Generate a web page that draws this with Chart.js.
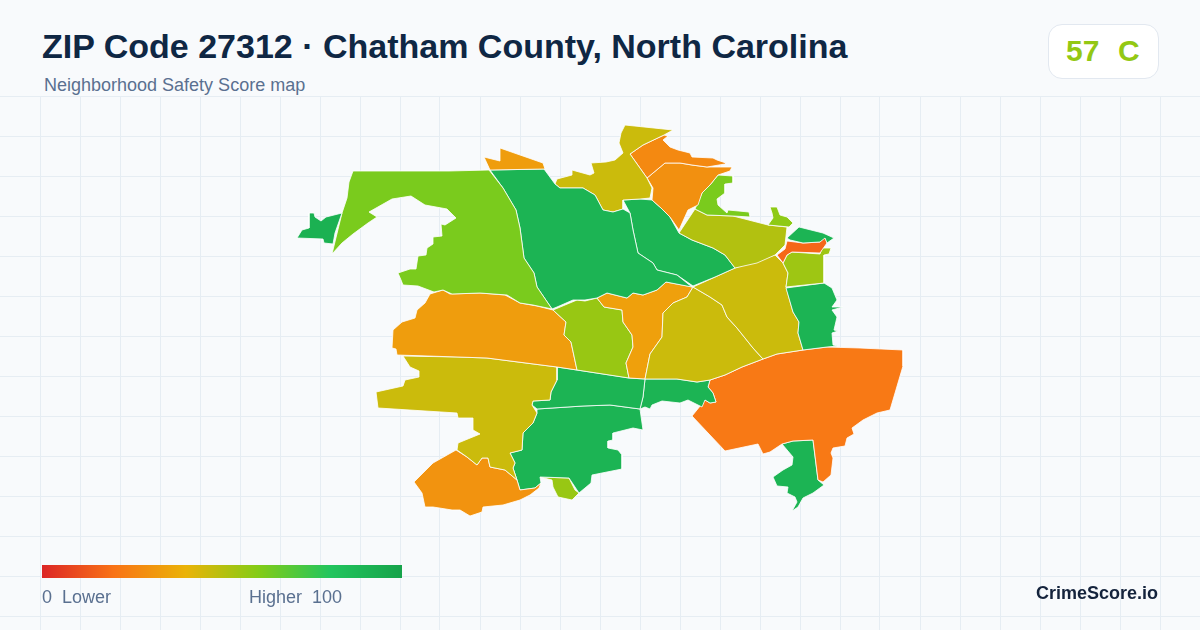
<!DOCTYPE html>
<html>
<head>
<meta charset="utf-8">
<title>ZIP Code 27312</title>
<script src="https://cdn.jsdelivr.net/npm/chart.js@4/dist/chart.umd.min.js"></script>
<style>
  html, body { margin: 0; padding: 0; }
  body { width: 1200px; height: 630px; background: #f8fafc; position: relative; overflow: hidden; font-family: "Liberation Sans", Arial, sans-serif; }
  #map { position: absolute; left: 0; top: 96px; }
  .txt { position: absolute; white-space: pre; line-height: 1; }
  #title { left: 42px; top: 29px; font-size: 34px; font-weight: bold; color: #0f2744; }
  #sub { left: 44px; top: 76px; font-size: 18px; color: #5a7090; }
  #badge { position: absolute; left: 1048px; top: 24px; width: 109px; height: 53px; background: #fff; border: 1px solid #e2e8f0; border-radius: 14px; }
  #score { left: 1066px; top: 36px; font-size: 30px; font-weight: bold; word-spacing: 1px; }
  #bar { position: absolute; left: 42px; top: 565px; width: 360px; height: 13px; }
  #lo { left: 42px; top: 588px; font-size: 18px; color: #5a7090; }
  #hi { left: 249px; top: 588px; font-size: 18px; color: #5a7090; }
  #brand { left: 1036px; top: 584px; font-size: 18px; font-weight: bold; color: #14233c; }
</style>
</head>
<body>
<div id="title" class="txt">ZIP Code 27312 · Chatham County, North Carolina</div>
<div id="sub" class="txt">Neighborhood Safety Score map</div>
<div id="badge"></div>
<div id="score" class="txt"></div>
<canvas id="map" width="1200" height="534"></canvas>
<div id="bar"></div>
<div id="lo" class="txt">0  Lower</div>
<div id="hi" class="txt">Higher  100</div>
<div id="brand" class="txt">CrimeScore.io</div>
<script>
const overallScore = 57
const overallGrade = 'C'

// colour ramp of the legend, 0 to 100
const rampStops = [0, 20, 40, 60, 80, 100]
const rampColors = ['#dc2626', '#f97316', '#eab308', '#84cc16', '#22c55e', '#16a34a']

// map grid, in map units
const gridX = [40, 80, 120, 160, 200, 240, 280, 320, 360, 400, 440, 480, 520, 560, 600, 640, 680, 720, 760, 800, 840, 880, 920, 960, 1000, 1040, 1080, 1120, 1160]
const gridY = [96, 136, 176, 216, 256, 296, 336, 376, 416, 456, 496, 536, 576, 616]

// neighborhood outlines, in map units
const westSpike = [[342,213],[326,217],[321,221],[315,217],[314,213],[309,213],[309,228],[302,230],[297,238],[323,239],[324,243],[333,244],[335,233]]
const northwest = [[353,171],[449,171],[489,170],[503,188],[516,210],[520,228],[524,258],[534,273],[537,287],[552,309],[533,305],[520,303],[507,295],[480,293],[452,294],[443,290],[434,292],[418,286],[403,285],[401,280],[398,273],[410,269],[416,269],[418,256],[426,255],[427,248],[433,244],[433,237],[442,236],[441,224],[445,225],[456,218],[447,209],[425,205],[411,196],[392,199],[369,212],[377,217],[368,223],[353,234],[342,243],[332,254],[342,213],[347,198],[349,182]]
const topSliver = [[484,157],[500,161],[500,148],[543,163],[545,169],[490,170]]
const centerBig = [[490,170],[544,169],[555,184],[560,188],[583,188],[595,195],[603,210],[613,212],[623,209],[630,213],[633,230],[638,253],[653,263],[657,270],[677,275],[692,287],[666,282],[657,290],[643,295],[633,293],[627,298],[607,293],[597,298],[585,300],[573,300],[557,307],[552,309],[537,287],[534,273],[524,258],[520,228],[516,210],[503,188]]
const northOlive = [[625,125],[673,130],[664,135],[643,145],[630,154],[647,178],[652,188],[650,198],[640,199],[623,200],[623,209],[613,212],[603,210],[595,195],[583,188],[560,188],[555,184],[557,179],[572,175],[572,170],[590,175],[594,173],[591,163],[606,162],[615,160],[623,153],[619,143],[621,133]]
const northOrange = [[630,154],[643,145],[664,135],[668,136],[663,140],[670,147],[678,150],[690,153],[692,157],[713,158],[717,160],[726,163],[725,164],[707,167],[692,165],[680,163],[665,163],[647,178]]
const northOrange2 = [[647,178],[665,163],[680,163],[692,165],[707,167],[732,167],[730,171],[718,175],[710,185],[702,193],[698,205],[688,210],[679,230],[670,217],[661,208],[652,200],[653,188]]
const neckLime = [[718,175],[733,176],[733,183],[725,184],[725,193],[717,199],[718,205],[727,213],[728,210],[749,212],[750,217],[733,216],[707,215],[695,209],[702,193],[710,185]]
const neTip = [[770,207],[777,207],[780,215],[787,217],[793,223],[789,227],[768,225],[773,218],[772,213]]
const oliveLime = [[695,209],[707,215],[733,216],[768,225],[787,227],[785,245],[775,255],[757,263],[735,268],[725,255],[713,248],[692,240],[679,233]]
const centerNorth = [[623,200],[640,199],[652,200],[661,208],[670,217],[679,233],[692,240],[713,248],[725,255],[735,268],[715,277],[693,286],[677,275],[657,270],[653,263],[638,253],[633,230],[630,213]]
const neGreen = [[787,238],[799,227],[823,233],[834,238],[827,243],[825,238],[820,242],[803,243],[790,240]]
const redStrip = [[787,241],[803,243],[820,242],[825,237],[827,243],[822,250],[820,253],[792,252],[787,255],[783,263],[777,255],[785,249]]
const eastLime = [[787,255],[792,252],[820,254],[822,248],[831,248],[829,254],[824,255],[824,283],[786,287],[788,273],[783,263]]
const eastGreen = [[786,288],[824,283],[832,288],[837,300],[832,307],[843,307],[832,310],[837,317],[834,330],[838,331],[832,333],[833,345],[838,346],[827,347],[803,350],[798,333],[799,322],[793,312]]
const eastOlive = [[693,287],[735,268],[775,255],[783,263],[788,273],[786,287],[793,312],[799,322],[798,333],[803,350],[777,354],[763,359],[753,348],[745,338],[737,328],[727,317],[722,305],[710,297]]
const southOlive = [[693,287],[710,297],[722,305],[727,317],[737,328],[745,338],[753,348],[763,359],[742,367],[725,375],[710,380],[697,382],[677,379],[645,379],[650,354],[662,337],[663,313],[673,303],[687,297]]
const centerAmber = [[597,298],[604,307],[622,310],[623,322],[632,335],[633,347],[626,363],[629,378],[645,379],[650,354],[662,337],[663,313],[673,303],[687,297],[693,287],[666,282],[657,290],[643,295],[633,293],[627,298],[607,293]]
const centerLime = [[553,310],[577,300],[585,301],[597,298],[604,307],[622,310],[623,322],[632,335],[633,347],[626,363],[629,378],[577,370],[571,342],[564,335],[566,322]]
const westAmber = [[443,290],[450,294],[480,293],[505,295],[520,303],[537,306],[553,310],[566,322],[564,335],[571,342],[577,370],[557,367],[487,358],[458,357],[397,355],[396,349],[392,348],[393,330],[402,322],[415,318],[417,310],[425,303],[430,294]]
const westOlive = [[403,356],[458,357],[487,358],[557,367],[557,380],[551,392],[550,400],[533,401],[532,405],[537,413],[533,423],[523,433],[522,450],[510,453],[515,463],[513,468],[517,480],[505,470],[490,467],[488,458],[482,458],[477,465],[467,457],[457,450],[458,443],[480,434],[473,430],[473,418],[458,418],[457,413],[378,408],[376,392],[403,386],[405,380],[419,377],[419,371],[410,367]]
const swOrange = [[456,450],[467,457],[477,465],[482,458],[488,458],[490,467],[505,470],[517,480],[520,490],[535,488],[541,483],[539,488],[530,495],[520,500],[503,505],[483,507],[482,512],[470,516],[460,510],[452,510],[433,507],[425,507],[422,493],[414,482],[433,463]]
const southGreen1 = [[557,367],[577,370],[629,378],[645,379],[643,397],[640,409],[610,405],[583,406],[537,409],[532,405],[533,401],[550,400],[551,392],[557,380]]
const southGreen2 = [[537,409],[583,406],[610,405],[640,409],[643,430],[633,428],[613,433],[613,440],[608,441],[608,448],[618,450],[622,455],[622,469],[592,475],[591,483],[579,493],[569,478],[540,477],[541,483],[535,488],[520,490],[517,480],[513,468],[515,463],[510,453],[522,450],[523,433],[533,423],[537,413]]
const southTip = [[540,477],[569,478],[575,490],[579,493],[572,500],[558,497],[553,487],[552,480]]
const midGreen = [[645,379],[677,379],[697,382],[710,380],[708,387],[713,393],[716,402],[710,403],[705,400],[702,407],[688,400],[680,403],[662,401],[652,405],[650,409],[645,407],[640,409],[643,397]]
const seOrange = [[710,380],[725,375],[742,367],[763,359],[777,354],[803,350],[827,347],[860,348],[903,350],[903,366],[890,410],[877,413],[863,420],[852,428],[854,434],[847,438],[845,446],[833,448],[831,453],[833,458],[831,475],[823,482],[818,480],[813,440],[793,441],[782,444],[770,452],[763,454],[758,444],[725,451],[692,416],[705,400],[710,403],[716,402],[713,393],[708,387]]
const seGreen = [[782,444],[793,441],[813,440],[818,480],[824,485],[813,493],[803,498],[798,507],[792,511],[797,502],[795,497],[787,493],[788,487],[777,486],[773,477],[783,470],[792,465],[793,457]]

const outlines = [westSpike, northwest, topSliver, centerBig, northOlive, northOrange, northOrange2, neckLime, neTip, oliveLime, centerNorth, neGreen, redStrip, eastLime, eastGreen, eastOlive, southOlive, centerAmber, centerLime, westAmber, westOlive, swOrange, southGreen1, southGreen2, southTip, midGreen, seOrange, seGreen]
const scores = [92, 62, 33, 90, 46, 27, 29, 62, 58, 51, 90, 90, 17, 55, 90, 46, 46, 34, 56, 33, 46, 30, 90, 90, 56, 90, 22, 90]

function hexRgb(h) {
  return [1, 3, 5].map(i => parseInt(h.slice(i, i + 2), 16))
}

function scoreColor(v) {
  let i = 0
  while (i < rampStops.length - 2 && v > rampStops[i + 1]) i++
  const t = (v - rampStops[i]) / (rampStops[i + 1] - rampStops[i])
  const a = hexRgb(rampColors[i])
  const b = hexRgb(rampColors[i + 1])
  return 'rgb(' + a.map((c, k) => Math.round(c + (b[k] - c) * t)).join(',') + ')'
}

document.getElementById('bar').style.background = 'linear-gradient(to right, ' + rampColors.join(', ') + ')'
const scoreEl = document.getElementById('score')
scoreEl.textContent = overallScore + '  ' + overallGrade
scoreEl.style.color = scoreColor(overallScore)

const datasets = outlines.map((shape, i) => ({
  data: shape.concat([shape[0]]).map(p => ({ x: p[0], y: p[1] })),
  showLine: true,
  fill: 'shape',
  backgroundColor: scoreColor(scores[i]),
  borderColor: '#ffffff',
  borderWidth: 0.8,
  pointRadius: 0,
  tension: 0
}))

const gridOpts = { color: '#e6edf3', lineWidth: 1, drawTicks: false }

new Chart(document.getElementById('map'), {
  type: 'scatter',
  data: { datasets: datasets },
  options: {
    responsive: false,
    animation: false,
    devicePixelRatio: 1,
    layout: { padding: 0 },
    plugins: { legend: { display: false }, tooltip: { enabled: false } },
    scales: {
      x: {
        type: 'linear', min: 0, max: 1200,
        grid: gridOpts, border: { display: false },
        ticks: { display: false },
        afterBuildTicks: s => { s.ticks = gridX.map(v => ({ value: v })) }
      },
      y: {
        type: 'linear', min: 96, max: 630, reverse: true,
        grid: gridOpts, border: { display: false },
        ticks: { display: false },
        afterBuildTicks: s => { s.ticks = gridY.map(v => ({ value: v })) }
      }
    }
  }
})
</script>
</body>
</html>
